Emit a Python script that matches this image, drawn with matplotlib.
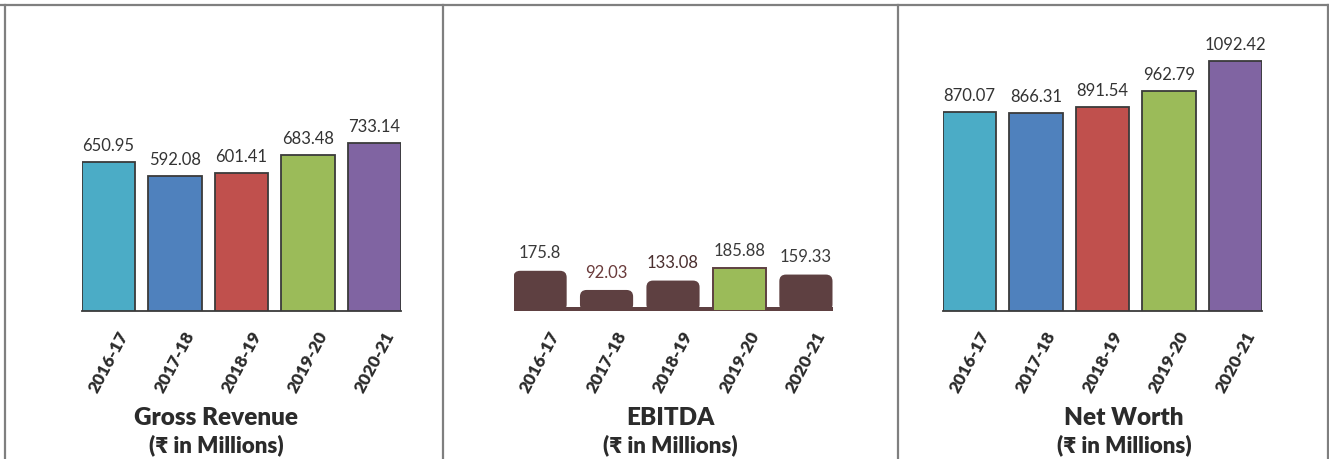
import matplotlib
matplotlib.use('Agg')
import matplotlib.pyplot as plt
from matplotlib.patches import FancyBboxPatch, Rectangle
from matplotlib.lines import Line2D

years = ['2016-17', '2017-18', '2018-19', '2019-20', '2020-21']
gross_revenue = [650.95, 592.08, 601.41, 683.48, 733.14]
ebitda = [175.8, 92.03, 133.08, 185.88, 159.33]
net_worth = [870.07, 866.31, 891.54, 962.79, 1092.42]
titles = ['Gross Revenue', 'EBITDA', 'Net Worth']
subtitle = '(\u20b9 in Millions)'

bar_colors = ['#4BACC6', '#4F81BD', '#C0504D', '#9BBB59', '#8064A2']
brown = '#5E4041'
green = '#9BBB59'
ebitda_colors = [brown, brown, brown, green, brown]
ebitda_label_colors = ['#3a3a3a', '#6a3b3b', '#4a2f2f', '#3a3a3a', '#3a3a3a']

FONT = ['Lato', 'Noto Sans', 'DejaVu Sans']
W, H = 1329, 460
fig = plt.figure(figsize=(W / 100, H / 100), dpi=100)

YMAX = 1200
px_per_unit = 0.2287
ax_h = YMAX * px_per_unit / H
base_y = 1 - 312 / H
panel_left_px = [82, 513.5, 943]
ax_w_px = 319

def fx(px):
    return px / W

axes = []
for lp in panel_left_px:
    ax = fig.add_axes([fx(lp), base_y, ax_w_px / W, ax_h])
    ax.set_xlim(-0.4, 4.4)
    ax.set_ylim(0, YMAX)
    for s in ['top', 'left', 'right']:
        ax.spines[s].set_visible(False)
    ax.spines['bottom'].set_color('#3a3a3a')
    ax.spines['bottom'].set_linewidth(1.3)
    ax.set_yticks([])
    ax.set_xticks(range(len(years)))
    ax.set_xticklabels(years, rotation=62, ha='center', fontsize=12.5,
                       fontweight='heavy', color='#2b2b2b', family=FONT)
    ax.tick_params(axis='x', length=0, pad=12)
    ax.patch.set_alpha(0)
    axes.append(ax)

# Gross revenue & net worth
for ax, vals in [(axes[0], gross_revenue), (axes[2], net_worth)]:
    bars = ax.bar(range(len(years)), vals, width=0.8, color=bar_colors,
                  edgecolor='#3a3a3a', linewidth=1.3, zorder=3)
    for b, v in zip(bars, vals):
        ax.annotate(f'{v:.2f}', (b.get_x() + b.get_width() / 2, b.get_height()),
                    xytext=(0, 6.5), textcoords='offset points', ha='center',
                    va='bottom', fontsize=12, color='#333333', family=FONT)

# EBITDA
ax = axes[1]
ax.spines['bottom'].set_visible(False)
bars = ax.bar(range(len(years)), ebitda, width=0.8, color=ebitda_colors, zorder=3)
x_per_px = 4.8 / ax_w_px
y_per_px = 1 / px_per_unit
aspect = y_per_px / x_per_px
for i, (b, v) in enumerate(zip(bars, ebitda)):
    x0, w, h = b.get_x(), b.get_width(), b.get_height()
    if ebitda_colors[i] == brown:
        b.set_visible(False)
        p = FancyBboxPatch((x0, 0), w, h,
                           boxstyle='round,pad=0,rounding_size=0.1',
                           mutation_aspect=aspect, facecolor=brown,
                           edgecolor='none', zorder=3)
        ax.add_patch(p)
    else:
        b.set_edgecolor(brown)
        b.set_linewidth(1.4)
    lbl = f'{v:g}'
    ax.annotate(lbl, (x0 + w / 2, h), xytext=(0, 7.5), textcoords='offset points',
                ha='center', va='bottom', fontsize=12,
                color=ebitda_label_colors[i], family=FONT)
ax.add_patch(Rectangle((-0.4, 0), 4.8, 4 * y_per_px, facecolor=brown,
                       edgecolor='none', zorder=2))

# Titles
title_x = [216, 670, 1124]
for tx, t in zip(title_x, titles):
    fig.text(fx(tx), 1 - 425 / H, t, ha='center', va='baseline', fontsize=17.5,
             fontweight='heavy', color='#2b2b2b', family=FONT)
    fig.text(fx(tx), 1 - 452 / H, subtitle, ha='center', va='baseline',
             fontsize=16, fontweight='heavy', color='#2b2b2b', family=FONT)

# Panel borders
line_kw = dict(color='#7f7f7f', linewidth=1.6, transform=fig.transFigure)
fig.add_artist(Line2D([0, 1], [1 - 6 / H, 1 - 6 / H], **line_kw))
for xp in [5, 443, 898, 1327.5]:
    fig.add_artist(Line2D([fx(xp), fx(xp)], [0, 1 - 6 / H], **line_kw))

fig.savefig('out.png', dpi=100)
